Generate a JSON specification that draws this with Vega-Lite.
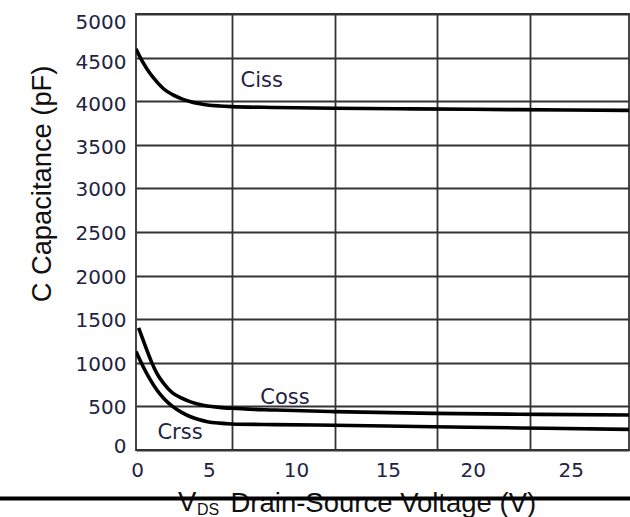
{
  "$schema": "https://vega.github.io/schema/vega-lite/v6.json",
  "width": 493,
  "height": 436,
  "autosize": {"type": "none"},
  "padding": {"left": 136, "top": 14, "right": 1, "bottom": 67},
  "background": "white",
  "config": {"view": {"stroke": "#333", "strokeWidth": 1.8}},
  "datasets": {
    "curves": [
      {"series": "Ciss", "vds": 0, "c": 4600},
      {"series": "Ciss", "vds": 0.4, "c": 4445},
      {"series": "Ciss", "vds": 0.8, "c": 4320},
      {"series": "Ciss", "vds": 1.2, "c": 4222},
      {"series": "Ciss", "vds": 1.6, "c": 4140},
      {"series": "Ciss", "vds": 2.1, "c": 4075},
      {"series": "Ciss", "vds": 2.6, "c": 4030},
      {"series": "Ciss", "vds": 3.1, "c": 3997},
      {"series": "Ciss", "vds": 3.6, "c": 3973},
      {"series": "Ciss", "vds": 4.1, "c": 3957},
      {"series": "Ciss", "vds": 4.8, "c": 3945},
      {"series": "Ciss", "vds": 5.5, "c": 3938},
      {"series": "Ciss", "vds": 8, "c": 3928},
      {"series": "Ciss", "vds": 11.4, "c": 3919},
      {"series": "Ciss", "vds": 16, "c": 3912},
      {"series": "Ciss", "vds": 22, "c": 3903},
      {"series": "Ciss", "vds": 28.35, "c": 3895},
      {"series": "Coss", "vds": 0.15, "c": 1400},
      {"series": "Coss", "vds": 0.4, "c": 1265},
      {"series": "Coss", "vds": 0.62, "c": 1147},
      {"series": "Coss", "vds": 0.9, "c": 1005},
      {"series": "Coss", "vds": 1.2, "c": 880},
      {"series": "Coss", "vds": 1.6, "c": 762},
      {"series": "Coss", "vds": 2.1, "c": 655},
      {"series": "Coss", "vds": 2.6, "c": 597},
      {"series": "Coss", "vds": 3.1, "c": 555},
      {"series": "Coss", "vds": 3.6, "c": 526},
      {"series": "Coss", "vds": 4.1, "c": 505},
      {"series": "Coss", "vds": 4.8, "c": 489},
      {"series": "Coss", "vds": 5.5, "c": 478},
      {"series": "Coss", "vds": 8, "c": 458},
      {"series": "Coss", "vds": 11.4, "c": 440},
      {"series": "Coss", "vds": 17.1, "c": 420},
      {"series": "Coss", "vds": 22, "c": 410},
      {"series": "Coss", "vds": 28.35, "c": 401},
      {"series": "Crss", "vds": 0, "c": 1130},
      {"series": "Crss", "vds": 0.4, "c": 960},
      {"series": "Crss", "vds": 0.8, "c": 812},
      {"series": "Crss", "vds": 1.2, "c": 688},
      {"series": "Crss", "vds": 1.6, "c": 590},
      {"series": "Crss", "vds": 2.1, "c": 500},
      {"series": "Crss", "vds": 2.6, "c": 434},
      {"series": "Crss", "vds": 3.1, "c": 384},
      {"series": "Crss", "vds": 3.6, "c": 349},
      {"series": "Crss", "vds": 4.1, "c": 325},
      {"series": "Crss", "vds": 4.8, "c": 308},
      {"series": "Crss", "vds": 5.5, "c": 299},
      {"series": "Crss", "vds": 8, "c": 291},
      {"series": "Crss", "vds": 11.4, "c": 284},
      {"series": "Crss", "vds": 17.1, "c": 267},
      {"series": "Crss", "vds": 22, "c": 253},
      {"series": "Crss", "vds": 28.35, "c": 237}
    ],
    "labels": [
      {"series": "Ciss", "vds": 7.23, "c": 4229},
      {"series": "Coss", "vds": 8.57, "c": 596},
      {"series": "Crss", "vds": 2.53, "c": 191}
    ]
  },
  "layer": [
    {
      "data": {"name": "curves"},
      "mark": {"type": "line", "interpolate": "monotone", "strokeWidth": 3.6, "color": "black", "clip": true},
      "encoding": {
        "x": {
          "field": "vds", "type": "quantitative",
          "scale": {"domain": [0, 28.35], "nice": false, "zero": false},
          "axis": {
            "orient": "bottom",
            "values": [0, 5, 10, 15, 20, 25],
            "format": "d",
            "grid": false, "ticks": false, "tickSize": 0, "domain": false,
            "labelFont": "DejaVu Sans", "labelFontSize": 20, "labelColor": "#222244",
            "labelPadding": 10, "labelFlush": false, "labelOverlap": false,
            "labelOffset": {"expr": "datum.value == 0 ? 1 : datum.value == 5 ? -14 : datum.value == 10 ? -14 : datum.value == 15 ? -9 : datum.value == 20 ? -11 : 0"},
            "title": "Drain-Source Voltage (V)",
            "titleFont": "Liberation Sans", "titleFontSize": 27.5, "titleFontWeight": "normal", "titleColor": "#111",
            "titleAlign": "left", "titleBaseline": "alphabetic", "titleX": 94, "titleY": 61
          }
        },
        "y": {
          "field": "c", "type": "quantitative",
          "scale": {"domain": [0, 5000], "nice": false},
          "axis": {
            "values": [0, 500, 1000, 1500, 2000, 2500, 3000, 3500, 4000, 4500, 5000],
            "format": "d",
            "grid": true, "gridColor": "#333", "gridWidth": 1.8,
            "ticks": false, "tickSize": 0, "domain": false,
            "labelFont": "DejaVu Sans", "labelFontSize": 20, "labelColor": "#222244",
            "labelFlush": false, "labelOverlap": false,
            "labelPadding": 10,
            "labelExpr": "datum.value == 0 ? '0\u00a0\u2009' : datum.label",
            "labelOffset": {"expr": "datum.value == 5000 ? 8 : datum.value == 4500 ? 5 : datum.value == 0 ? -4 : datum.value >= 3500 ? 3 : 1.5"},
            "title": "C Capacitance (pF)",
            "titleFont": "Liberation Sans", "titleFontSize": 27.3, "titleFontWeight": "normal", "titleColor": "#111",
            "titleAlign": "center", "titleBaseline": "alphabetic", "titleX": -86, "titleY": 169.5
          }
        },
        "detail": {"field": "series"}
      }
    },
    {
      "data": {"name": "labels"},
      "mark": {"type": "text", "font": "DejaVu Sans", "fontSize": 21, "color": "#222244"},
      "encoding": {
        "x": {
          "field": "vds", "type": "quantitative",
          "axis": {"orient": "top", "values": [5.52, 11.44, 17.31, 22.66], "grid": true, "gridColor": "#333", "gridWidth": 1.8, "labels": false, "ticks": false, "domain": false, "title": null}
        },
        "y": {"field": "c", "type": "quantitative"},
        "text": {"field": "series"}
      }
    },
    {
      "data": {"values": [{}]},
      "mark": {"type": "text", "text": "V", "font": "Liberation Sans", "fontSize": 27.5, "color": "#111", "align": "left", "baseline": "alphabetic"},
      "encoding": {
        "x": {"datum": 2.415, "type": "quantitative", "axis": null},
        "y": {"datum": -699.5, "type": "quantitative"}
      }
    },
    {
      "data": {"values": [{}]},
      "mark": {"type": "text", "text": "DS", "font": "Liberation Sans", "fontSize": 16, "color": "#111", "align": "left", "baseline": "alphabetic"},
      "encoding": {
        "x": {"datum": 3.51, "type": "quantitative", "axis": null},
        "y": {"datum": -745, "type": "quantitative"}
      }
    },
    {
      "data": {"values": [{}]},
      "mark": {"type": "rule", "strokeWidth": 4, "color": "black"},
      "encoding": {
        "x": {"datum": -8.3, "type": "quantitative", "axis": null},
        "x2": {"datum": 28.6},
        "y": {"datum": -556, "type": "quantitative"}
      }
    }
  ],
  "resolve": {"axis": {"x": "independent"}}
}
